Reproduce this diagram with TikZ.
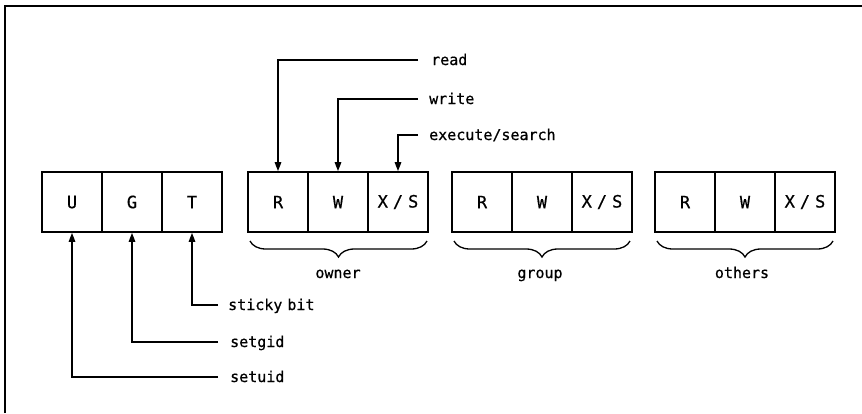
\documentclass[tikz,border=0pt]{standalone}
\usepackage{fontspec}
\newfontfamily\lett[FakeBold=0.6]{DejaVu Sans Mono}
\usetikzlibrary{arrows.meta,decorations.pathreplacing}
\begin{document}
\begin{tikzpicture}[x=1pt,y=-1pt,
  cell/.style={draw,line width=1.7pt,minimum width=60pt,minimum height=60pt,inner sep=0pt,
    font=\lett\fontsize{17}{20}\selectfont},
  lbl/.style={font=\lett\fontsize{15}{18}\selectfont,inner sep=0pt,anchor=base west},
  grp/.style={font=\lett\fontsize{15}{18}\selectfont,inner sep=0pt,anchor=base},
  arr/.style={line width=1.5pt,-{Triangle[length=9pt,width=6.5pt]}},
  brc/.style={decorate,decoration={brace,mirror,amplitude=16pt},line width=1.3pt},
  frm/.style={line width=1.6pt}]
\useasboundingbox (0,0) rectangle (862,413);
% frame
\draw[frm] (5,413) -- (5,6) -- (862,6);
% special bits
\node[cell] (U) at (72,202) {U};
\node[cell] (G) at (132,202) {G};
\node[cell] (T) at (192,202) {T};
% owner
\node[cell] (R1) at (278,202) {R};
\node[cell] (W1) at (338,202) {W};
\node[cell] (X1) at (398,202) {X\kern5pt/\kern5pt S};
% group
\node[cell] (R2) at (482,202) {R};
\node[cell] (W2) at (542,202) {W};
\node[cell] (X2) at (602,202) {X\kern5pt/\kern5pt S};
% others
\node[cell] (R3) at (685,202) {R};
\node[cell] (W3) at (745,202) {W};
\node[cell] (X3) at (805,202) {X\kern5pt/\kern5pt S};
% top labels
\node[lbl] (rd) at (431,65) {read};
\node[lbl] (wr) at (429,104) {write};
\node[lbl] (ex) at (429,140) {execute/search};
\coordinate (rdc) at (418,60);
\coordinate (wrc) at (418,99);
\coordinate (exc) at (418,135);
\draw[arr] (rdc) -| (R1.north);
\draw[arr] (wrc) -| (W1.north);
\draw[arr] (exc) -| (X1.north);
% bottom labels
\node[lbl] (sb) at (228,310) {sticky\hspace{-4pt} bit};
\node[lbl] (sg) at (230,347) {setgid};
\node[lbl] (su) at (230,382) {setuid};
\coordinate (sbc) at (218,305);
\coordinate (sgc) at (218,342);
\coordinate (suc) at (218,377);
\draw[arr] (sbc) -| (T.south);
\draw[arr] (sgc) -| (G.south);
\draw[arr] (suc) -| (U.south);
% braces
\draw[brc] (250,241) -- (427,241);
\draw[brc] (454,241) -- (630,241);
\draw[brc] (657,241) -- (833,241);
\node[grp] (own) at (338,278) {owner};
\node[grp] (grpl) at (540,278) {group};
\node[grp] (oth) at (742,278) {others};
\end{tikzpicture}
\end{document}
